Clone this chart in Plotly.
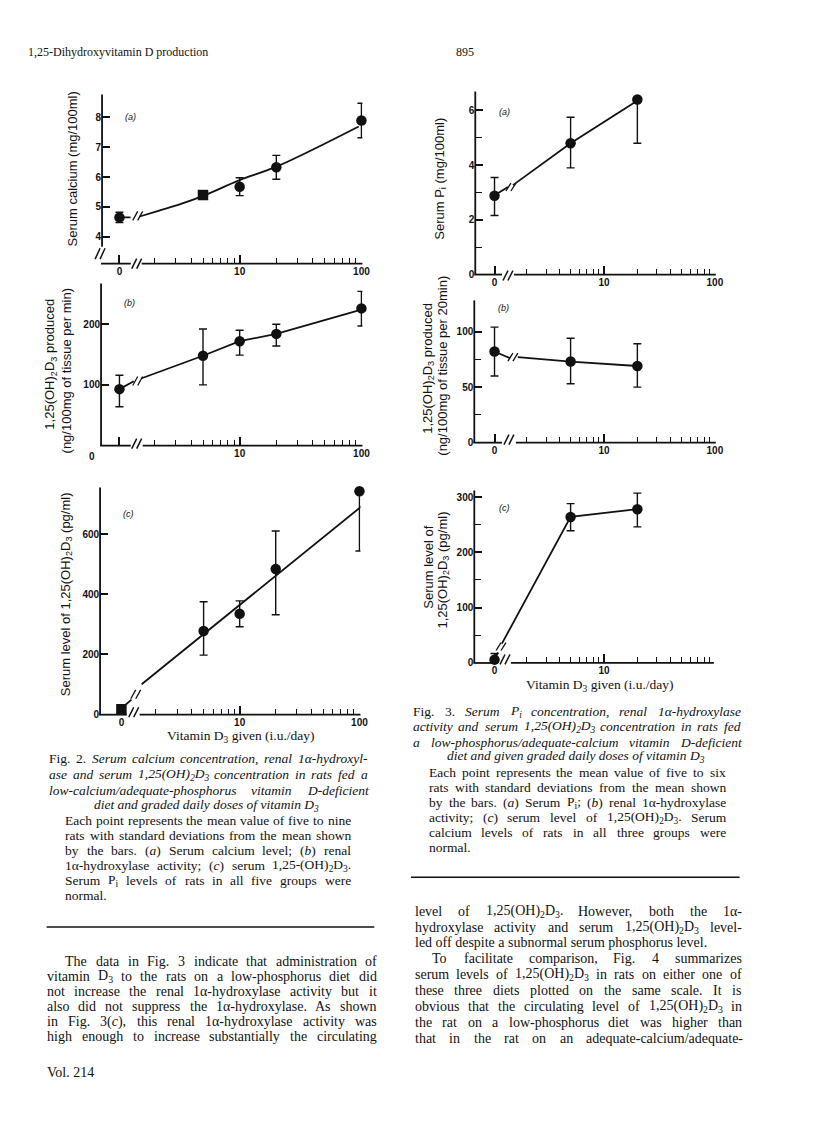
import plotly.graph_objects as go

W, H = 800, 1116   # figure sized to fit inside the page's 8px body margin (no overflow, no scaling)
OFF = 8            # page margin: figure origin sits at (8, 8) in the window
def fx(p): return (p - OFF) / W
def fy(p): return 1 - (p - OFF) / H

ZERO_X = 1.03   # where the "0" dose sits on the broken log axis
INK = "#111111"
SERIF = "Liberation Serif"
SANS = "Liberation Sans"

# ---------------- Fig. 2 data (low-Ca / adequate-P diet) ----------------
fig2_dose = [0, 5, 10, 20, 100]
fig2a_calcium = [4.65, 5.4, 5.68, 6.33, 7.9]
fig2a_sd = [0.17, 0.08, 0.3, 0.4, 0.58]
fig2b_activity = [93, 148, 172, 184, 226]
fig2b_sd_plus = [23, 44, 18, 16, 28]
fig2b_sd_minus = [29, 48, 23, 20, 29]
fig2c_serum = [18, 278, 335, 484, 742]
fig2c_sd_plus = [10, 97, 43, 126, 0]
fig2c_sd_minus = [10, 80, 43, 152, 198]

# ---------------- Fig. 3 data (low-P / adequate-Ca diet) ----------------
fig3_dose = [0, 5, 20]
fig3a_pi = [2.88, 4.8, 6.4]
fig3a_sd_plus = [0.67, 0.95, 0]
fig3a_sd_minus = [0.72, 0.9, 1.6]
fig3b_activity = [82, 73, 69]
fig3b_sd_plus = [22, 21, 20]
fig3b_sd_minus = [22, 20, 19]
fig3c_serum = [6, 264, 278]
fig3c_sd_plus = [11, 24, 29]
fig3c_sd_minus = [6, 25, 32]

# ---------------- drawn curves of the original ----------------
fig2a_curve_x = [ZERO_X, 1.27, None, 1.51, 2.15, 3.3, 5, 10, 20, 95]
fig2a_curve_y = [4.65, 4.65, None, 4.68, 4.87, 5.1, 5.37, 5.9, 6.35, 7.7]
fig2b_curve_x = [ZERO_X, 1.35, None, 1.57, 5, 10, 20, 92]
fig2b_curve_y = [93, 106, None, 111, 148, 172, 184, 222]
fig2c_fit_x = [1.08, 1.25, None, 1.52, 120]
fig2c_fit_y = [28, 50, None, 101, 712]
fig3a_curve_x = [ZERO_X, 1.36, None, 1.51, 5, 19]
fig3a_curve_y = [2.9, 3.2, None, 3.27, 4.8, 6.3]
fig3b_curve_x = [ZERO_X, 1.42, None, 1.67, 5, 20]
fig3b_curve_y = [82, 76, None, 77, 73, 69]
fig3c_curve_x = [ZERO_X, 1.11, None, 1.2, 5, 20]
fig3c_curve_y = [8, 19, None, 35, 264, 278]

# ---------------- tick labels ----------------
x_major = [ZERO_X, 10, 100]
x_major_text = ["0", "10", "100"]
x_minor = [2, 3, 4, 5, 6, 7, 8, 9, 20, 30, 40, 50, 60, 70, 80, 90]

# ---------------- texts ----------------
header_left = "1,25-Dihydroxyvitamin D production"
header_right = "895"
x_title = "Vitamin D<sub>3</sub> given (i.u./day)"

fig2_caption = [
    "Fig. 2. <i>Serum calcium concentration, renal 1α-hydroxyl-</i>",
    "<i>ase and serum 1,25(OH)<sub>2</sub>D<sub>3</sub> concentration in rats fed a</i>",
    "<i>low-calcium/adequate-phosphorus vitamin D-deficient</i>",
]
fig2_caption_last = "<i>diet and graded daily doses of vitamin D<sub>3</sub></i>"
fig2_para = [
    "Each point represents the mean value of five to nine",
    "rats with standard deviations from the mean shown",
    "by the bars. (<i>a</i>) Serum calcium level; (<i>b</i>) renal",
    "1α-hydroxylase activity; (<i>c</i>) serum 1,25-(OH)<sub>2</sub>D<sub>3</sub>.",
    "Serum P<sub>i</sub> levels of rats in all five groups were",
]
fig2_para_last = "normal."

fig3_caption = [
    "Fig. 3. <i>Serum P<sub>i</sub> concentration, renal 1α-hydroxylase</i>",
    "<i>activity and serum 1,25(OH)<sub>2</sub>D<sub>3</sub> concentration in rats fed</i>",
    "<i>a low-phosphorus/adequate-calcium vitamin D-deficient</i>",
]
fig3_caption_last = "<i>diet and given graded daily doses of vitamin D<sub>3</sub></i>"
fig3_para = [
    "Each point represents the mean value of five to six",
    "rats with standard deviations from the mean shown",
    "by the bars. (<i>a</i>) Serum P<sub>i</sub>; (<i>b</i>) renal 1α-hydroxylase",
    "activity; (<i>c</i>) serum level of 1,25(OH)<sub>2</sub>D<sub>3</sub>. Serum",
    "calcium levels of rats in all three groups were",
]
fig3_para_last = "normal."

body_left = [
    "The data in Fig. 3 indicate that administration of",
    "vitamin D<sub>3</sub> to the rats on a low-phosphorus diet did",
    "not increase the renal 1α-hydroxylase activity but it",
    "also did not suppress the 1α-hydroxylase. As shown",
    "in Fig. 3(<i>c</i>), this renal 1α-hydroxylase activity was",
    "high enough to increase substantially the circulating",
]
body_right = [
    "level of 1,25(OH)<sub>2</sub>D<sub>3</sub>. However, both the 1α-",
    "hydroxylase activity and serum 1,25(OH)<sub>2</sub>D<sub>3</sub> level-",
    "led off despite a subnormal serum phosphorus level.",
    "To facilitate comparison, Fig. 4 summarizes",
    "serum levels of 1,25(OH)<sub>2</sub>D<sub>3</sub> in rats on either one of",
    "these three diets plotted on the same scale. It is",
    "obvious that the circulating level of 1,25(OH)<sub>2</sub>D<sub>3</sub> in",
    "the rat on a low-phosphorus diet was higher than",
    "that in the rat on an adequate-calcium/adequate-",
]
footer = "Vol. 214"

# ---------------- Times metrics (Liberation Serif is metric-compatible) ----------------
ROMAN = {' ': 250, '(': 333, ')': 333, ',': 250, '-': 333, '.': 250, '/': 278, ':': 278, ';': 278,
         'A': 722, 'B': 667, 'C': 667, 'D': 722, 'E': 611, 'F': 556, 'G': 722, 'H': 722, 'I': 333,
         'J': 389, 'K': 722, 'L': 611, 'M': 889, 'N': 722, 'O': 722, 'P': 556, 'Q': 722, 'R': 667,
         'S': 556, 'T': 611, 'U': 722, 'V': 722, 'W': 944, 'X': 722, 'Y': 722, 'Z': 611,
         'a': 444, 'b': 500, 'c': 444, 'd': 500, 'e': 444, 'f': 333, 'g': 500, 'h': 500, 'i': 278,
         'j': 278, 'k': 500, 'l': 278, 'm': 778, 'n': 500, 'o': 500, 'p': 500, 'q': 500, 'r': 333,
         's': 389, 't': 278, 'u': 500, 'v': 500, 'w': 722, 'x': 500, 'y': 500, 'z': 444, 'α': 530}
ITALIC = dict(ROMAN)
ITALIC.update({'A': 611, 'B': 611, 'F': 611, 'K': 667, 'L': 556, 'M': 833, 'N': 667, 'P': 611,
               'R': 611, 'S': 500, 'T': 556, 'V': 611, 'W': 833, 'X': 611, 'Y': 556, 'Z': 556,
               'a': 500, 'f': 278, 'k': 444, 'm': 722, 'r': 389, 'v': 444, 'w': 667, 'x': 444,
               'y': 444, 'z': 389, ':': 333, ';': 333})
for d in '0123456789':
    ROMAN[d] = 500
    ITALIC[d] = 500


def parse_words(markup):
    words, cur = [], []
    it = sub = False
    i = 0
    while i < len(markup):
        ch = markup[i]
        if ch == '<':
            j = markup.index('>', i)
            tag = markup[i + 1:j]
            if tag == 'i': it = True
            elif tag == '/i': it = False
            elif tag == 'sub': sub = True
            elif tag == '/sub': sub = False
            i = j + 1
            continue
        if ch == ' ':
            if cur:
                words.append(cur)
                cur = []
        else:
            cur.append((ch, it, sub))
        i += 1
    if cur:
        words.append(cur)
    return words


def word_width(word, size):
    tot = 0
    for ch, it, sub in word:
        w = (ITALIC if it else ROMAN).get(ch, 500)
        tot += w * (0.7 if sub else 1.0)
    return tot * size / 1000.0


def word_markup(word):
    out, run, key = '', '', None
    def flush(run, key):
        if not run: return ''
        s = run
        if key[1]: s = '<sub>' + s + '</sub>'
        if key[0]: s = '<i>' + s + '</i>'
        return s
    for ch, it, sub in word:
        k = (it, sub)
        if k != key:
            out += flush(run, key) if key else ''
            run, key = '', k
        run += ch
    out += flush(run, key)
    return out


annotations = []
shapes = []


def ann(text, x, y, size, family=SERIF, xanchor='left', yanchor='middle', angle=0, weight='normal'):
    annotations.append(dict(text=text, x=fx(x), y=fy(y), xref='paper', yref='paper',
                            showarrow=False, xanchor=xanchor, yanchor=yanchor, textangle=angle,
                            borderpad=0, font=dict(family=family, size=size, color=INK, weight=weight)))


def justified(markup, x0, x1, y, size):
    words = parse_words(markup)
    widths = [word_width(w, size) for w in words]
    gap = (x1 - x0 - sum(widths)) / max(len(words) - 1, 1)
    x = x0
    for w, wd in zip(words, widths):
        ann(word_markup(w), x, y, size)
        x += wd + gap


def seg(x0, y0, x1, y1, width=1.8):
    shapes.append(dict(type='line', xref='paper', yref='paper', x0=fx(x0), y0=fy(y0),
                       x1=fx(x1), y1=fy(y1), line=dict(color=INK, width=width)))


def slashes(cx, cy, h=10, sep=5, width=1.5):
    for dx in (-sep / 2, sep / 2):
        seg(cx + dx - 2.5, cy + h / 2, cx + dx + 2.5, cy - h / 2, width)


fig = go.Figure()

panels = [
    dict(left=103, right=366, p1=119, dec=123, top=95, bottom=265, yr=[3.1, 8.77],
         ytv=[4, 5, 6, 7, 8], ytt=['4', '5', '6', '7', '8'], yminor=[], xtt=x_major_text),
    dict(left=102, right=366, p1=119, dec=123, top=285, bottom=448, yr=[0, 267],
         ytv=[100, 200], ytt=['100', '200'], yminor=[], xtt=["", "10", "100"]),
    dict(left=101, right=364, p1=121, dec=121, top=490, bottom=718.5, yr=[0, 755],
         ytv=[0, 200, 400, 600], ytt=['0', '200', '400', '600'], yminor=[], xtt=x_major_text),
    dict(left=480, right=723, p1=498, dec=112, top=92, bottom=276, yr=[0, 6.69],
         ytv=[0, 2, 4, 6], ytt=['0', '2', '4', '6'], yminor=[1, 3, 5], xtt=x_major_text),
    dict(left=479, right=723, p1=498, dec=112, top=302, bottom=445, yr=[0, 128],
         ytv=[0, 50, 100], ytt=['0', '50', '100'], yminor=[25, 75], xtt=x_major_text),
    dict(left=479, right=721, p1=498, dec=112, top=493, bottom=666.5, yr=[0, 312],
         ytv=[0, 100, 200, 300], ytt=['0', '100', '200', '300'], yminor=[50, 150, 250], xtt=x_major_text),
]

series = [
    (fig2_dose, fig2a_calcium, fig2a_sd, fig2a_sd, fig2a_curve_x, fig2a_curve_y, 'spline',
     ['circle', 'square', 'circle', 'circle', 'circle']),
    (fig2_dose, fig2b_activity, fig2b_sd_plus, fig2b_sd_minus, fig2b_curve_x, fig2b_curve_y, 'linear', 'circle'),
    (fig2_dose, fig2c_serum, fig2c_sd_plus, fig2c_sd_minus, fig2c_fit_x, fig2c_fit_y, 'linear',
     ['square', 'circle', 'circle', 'circle', 'circle']),
    (fig3_dose, fig3a_pi, fig3a_sd_plus, fig3a_sd_minus, fig3a_curve_x, fig3a_curve_y, 'linear', 'circle'),
    (fig3_dose, fig3b_activity, fig3b_sd_plus, fig3b_sd_minus, fig3b_curve_x, fig3b_curve_y, 'linear', 'circle'),
    (fig3_dose, fig3c_serum, fig3c_sd_plus, fig3c_sd_minus, fig3c_curve_x, fig3c_curve_y, 'linear', 'circle'),
]

TICKFONT = dict(family=SANS, size=10, color=INK, weight='bold')

layout_axes = {}
for i, (p, s) in enumerate(zip(panels, series), start=1):
    sfx = '' if i == 1 else str(i)
    dose, yv, plus, minus, cx, cy, shape, sym = s
    xs = [ZERO_X if d == 0 else d for d in dose]
    fig.add_trace(go.Scatter(x=cx, y=cy, mode='lines', line=dict(color=INK, width=1.8, shape=shape),
                             connectgaps=False, hoverinfo='skip', showlegend=False, cliponaxis=False,
                             xaxis='x' + sfx, yaxis='y' + sfx))
    fig.add_trace(go.Scatter(x=xs, y=yv, mode='markers', cliponaxis=False,
                             marker=dict(color=INK, size=10.5, symbol=sym, line=dict(width=0)),
                             error_y=dict(type='data', symmetric=False, array=plus, arrayminus=minus,
                                          color=INK, thickness=1.4, width=4),
                             showlegend=False, xaxis='x' + sfx, yaxis='y' + sfx))
    xr = [(p['left'] - p['p1']) / p['dec'], (p['right'] - p['p1']) / p['dec']]
    layout_axes['xaxis' + sfx] = dict(
        domain=[fx(p['left']), fx(p['right'])], type='log', range=xr, anchor='y' + sfx,
        showline=False, showgrid=False, zeroline=False, ticks='inside', ticklen=9, tickwidth=1.6,
        tickcolor=INK, tickmode='array', tickvals=x_major, ticktext=p['xtt'],
        tickfont=TICKFONT,
        minor=dict(tickmode='array', tickvals=x_minor, ticks='inside', ticklen=6, tickwidth=1.4,
                   tickcolor=INK, showgrid=False))
    ymin = dict(tickmode='array', tickvals=p['yminor'], ticks='inside', ticklen=7, tickwidth=1.4,
                tickcolor=INK, showgrid=False) if p['yminor'] else dict(ticks='')
    layout_axes['yaxis' + sfx] = dict(
        domain=[fy(p['bottom']), fy(p['top'])], range=p['yr'], anchor='x' + sfx,
        showline=False, showgrid=False, zeroline=False, ticks='inside', ticklen=8, tickwidth=1.6,
        tickcolor=INK, tickmode='array', tickvals=p['ytv'], ticktext=p['ytt'],
        tickfont=TICKFONT, minor=ymin)

# ---- axis lines with breaks ----
seg(103, 95, 103, 248); seg(102, 265, 132, 265); seg(143, 265, 366, 265)
slashes(101, 255, h=11); slashes(138, 265)
seg(102, 285, 102, 448); seg(101, 448, 132, 448); seg(144, 448, 366, 448)
slashes(138, 446)
seg(101, 490, 101, 718.5); seg(100, 718.5, 128, 718.5); seg(141, 718.5, 364, 718.5)
slashes(135, 716)
seg(480, 92, 480, 276); seg(479, 276, 507, 276); seg(519, 276, 723, 276)
slashes(513, 277)
seg(479, 302, 479, 445); seg(478, 445, 507, 445); seg(521, 445, 723, 445)
slashes(514, 442)
seg(479, 493, 479, 666.5); seg(478, 666.5, 503, 666.5); seg(516, 666.5, 721, 666.5)
slashes(510, 663)
# breaks drawn on the curves
slashes(139, 217, h=9, width=1.3)
slashes(139, 383, h=9, width=1.3)
slashes(137, 698, h=9, width=1.3)
slashes(516, 188, h=8, width=1.3)
slashes(518, 359, h=8, width=1.3)
slashes(506, 650, h=8, width=1.3)

# ---- panel labels ----
for (lbl, x, y) in [("(a)", 125, 118), ("(b)", 124, 305), ("(c)", 123, 517),
                    ("(a)", 503, 113), ("(b)", 502, 310), ("(c)", 503, 511)]:
    ann("<i>" + lbl + "</i>", x, y, 9, family=SANS)

# ---- axis titles ----
ann("Serum calcium (mg/100ml)", 73, 170, 13, family=SANS, xanchor='center', angle=-90)
ann("1,25(OH)<sub>2</sub>D<sub>3</sub> produced", 51, 366, 13, family=SANS, xanchor='center', angle=-90)
ann("(ng/100mg of tissue per min)", 67, 373, 13, family=SANS, xanchor='center', angle=-90)
ann("Serum level of 1,25(OH)<sub>2</sub>D<sub>3</sub> (pg/ml)", 67, 597, 13, family=SANS, xanchor='center', angle=-90)
ann("Serum P<sub>i</sub> (mg/100ml)", 444, 180, 13, family=SANS, xanchor='center', angle=-90)
ann("1,25(OH)<sub>2</sub>D<sub>3</sub> produced", 432, 370, 13, family=SANS, xanchor='center', angle=-90)
ann("(ng/100mg of tissue per 20min)", 446, 368, 13, family=SANS, xanchor='center', angle=-90)
ann("Serum level of", 433, 570, 13, family=SANS, xanchor='center', angle=-90)
ann("1,25(OH)<sub>2</sub>D<sub>3</sub> (pg/ml)", 448, 573, 13, family=SANS, xanchor='center', angle=-90)
ann("0", 93, 459, 10, family=SANS, xanchor='center', weight='bold')
ann(x_title, 243, 740, 13.5, xanchor='center')
ann(x_title, 606, 689, 13.5, xanchor='center')

# ---- page text ----
ann(header_left, 27, 52, 12)
ann(header_right, 460, 52, 12)

cap_size = 13.5
ys = [763, 779, 795, 810]
for t, y in zip(fig2_caption, ys):
    justified(t, 48, 370, y, cap_size)
ann(fig2_caption_last, 209, ys[3], cap_size, xanchor='center')
ys = [825, 840, 855, 870, 885, 900]
for t, y in zip(fig2_para, ys):
    justified(t, 65, 353, y, cap_size)
ann(fig2_para_last, 65, ys[5], cap_size)

ys = [715, 730, 746, 761]
for t, y in zip(fig3_caption, ys):
    justified(t, 416, 747, y, cap_size)
ann(fig3_caption_last, 582, ys[3], cap_size, xanchor='center')
ys = [777, 792, 807, 822, 837, 852]
for t, y in zip(fig3_para, ys):
    justified(t, 432, 732, y, cap_size)
ann(fig3_para_last, 432, ys[5], cap_size)

seg(415, 882, 747, 882, width=1.5)
seg(47, 932, 378, 932, width=1.5)

body_size = 14
ys = [967, 982, 997, 1012, 1027, 1042]
for k, (t, y) in enumerate(zip(body_left, ys)):
    justified(t, 65 if k == 0 else 46, 379, y, body_size)
ann(footer, 46, 1078, body_size)

ys = [916, 932, 948, 964, 980, 996, 1012, 1028, 1044]
for k, (t, y) in enumerate(zip(body_right, ys)):
    if k == 2:
        ann(t, 418, y, body_size)
    else:
        justified(t, 435 if k == 3 else 418, 748, y, body_size)

fig.update_layout(width=W, height=H, margin=dict(l=0, r=0, t=0, b=0),
                  paper_bgcolor='white', plot_bgcolor='white', showlegend=False,
                  annotations=annotations, shapes=shapes, **layout_axes)
fig.write_html("out.html")
